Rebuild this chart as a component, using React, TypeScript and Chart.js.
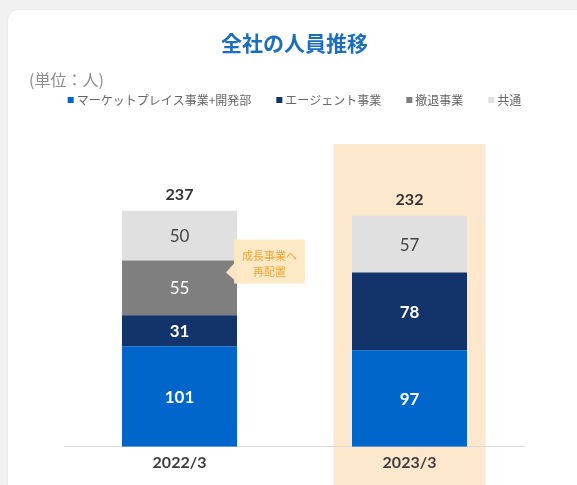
import React, { useEffect, useRef } from 'react';
import { Chart, registerables } from 'chart.js';

Chart.register(...registerables);

const categories = ['2022/3', '2023/3'];
const seriesNames = ['マーケットプレイス事業+開発部', 'エージェント事業', '撤退事業', '共通'];
const marketplace = [101, 97];
const agent = [31, 78];
const withdrawn = [55, 0];
const common = [50, 57];
const seriesColors = ['#0066CC', '#12346B', '#7F7F7F', '#E0E0E0'];
const labelColors = ['#FFFFFF', '#FFFFFF', '#FFFFFF', '#444444'];
const labelWeights = ['bold', 'bold', 'normal', 'normal'];
const titleText = '全社の人員推移';
const unitText = '(単位：人)';
const calloutLines = ['成長事業へ', '再配置'];
const highlightIndex = 1;
const calloutSeries = 2;
const calloutCategory = 0;

const CJK = '"Noto Sans CJK JP", "Noto Sans", sans-serif';
const NUM = 'Lato, "Noto Sans", sans-serif';

const highlightPlugin = {
  id: 'highlight',
  beforeDraw(chart: any) {
    const { ctx, chartArea, scales } = chart;
    const x = scales.x.getPixelForValue(highlightIndex);
    ctx.save();
    ctx.fillStyle = '#FDE7CD';
    ctx.fillRect(x - 76, chartArea.top - 4, 152, chart.height);
    ctx.restore();
  },
};

const headerPlugin = {
  id: 'header',
  afterDraw(chart: any) {
    const { ctx, chartArea } = chart;
    ctx.save();
    ctx.font = `16px ${CJK}`;
    ctx.fillStyle = '#8C8C8C';
    ctx.textBaseline = 'middle';
    ctx.textAlign = 'left';
    ctx.fillText(unitText, 29, 80);

    // legend
    ctx.font = `12px ${CJK}`;
    const box = 6;
    const gap = 3;
    const spacing = 25;
    const widths = seriesNames.map((n) => box + gap + ctx.measureText(n).width);
    const total = widths.reduce((a, b) => a + b, 0) + spacing * (widths.length - 1);
    let x = (chartArea.left + chartArea.right) / 2 - total / 2;
    const y = 100;
    seriesNames.forEach((n, i) => {
      ctx.fillStyle = seriesColors[i];
      ctx.fillRect(x, y - box / 2, box, box);
      ctx.fillStyle = '#666666';
      ctx.fillText(n, x + box + gap, y);
      x += widths[i] + spacing;
    });
    ctx.restore();
  },
};

const labelsPlugin = {
  id: 'valueLabels',
  afterDatasetsDraw(chart: any) {
    const { ctx } = chart;
    ctx.save();
    ctx.textAlign = 'center';
    ctx.textBaseline = 'middle';
    const n = chart.data.datasets.length;
    for (let i = 0; i < n; i++) {
      const meta = chart.getDatasetMeta(i);
      meta.data.forEach((el: any, j: number) => {
        const v = chart.data.datasets[i].data[j];
        if (!v) return;
        ctx.font = `${labelWeights[i]} 17px ${NUM}`;
        ctx.fillStyle = labelColors[i];
        ctx.fillText(String(v), el.x, (el.y + el.base) / 2 + 1);
      });
    }
    // totals
    ctx.font = `bold 16px ${NUM}`;
    ctx.fillStyle = '#333333';
    categories.forEach((_, j) => {
      let sum = 0;
      let top = Infinity;
      let xPos = 0;
      for (let i = 0; i < n; i++) {
        const v = chart.data.datasets[i].data[j] || 0;
        sum += v;
        const el = chart.getDatasetMeta(i).data[j];
        if (v) {
          top = Math.min(top, el.y);
          xPos = el.x;
        }
      }
      ctx.fillText(String(sum), xPos, top - 16);
    });

    // callout
    const el = chart.getDatasetMeta(calloutSeries).data[calloutCategory];
    const right = el.x + el.width / 2;
    const left = right - 3;
    const w = 71;
    const top = el.y - 21;
    const bottom = el.y + 23;
    ctx.fillStyle = 'rgba(253, 232, 196, 0.97)';
    ctx.beginPath();
    ctx.moveTo(left, top);
    ctx.lineTo(left + w, top);
    ctx.lineTo(left + w, bottom);
    ctx.lineTo(left, bottom);
    ctx.lineTo(left, el.y + 19);
    ctx.lineTo(right - 11, el.y + 12);
    ctx.lineTo(left, el.y + 3);
    ctx.closePath();
    ctx.fill();
    ctx.font = `11px ${CJK}`;
    ctx.fillStyle = '#F2A633';
    ctx.fillText(calloutLines[0], left + w / 2, el.y - 5);
    ctx.fillText(calloutLines[1], left + w / 2, el.y + 11);
    ctx.restore();
  },
};

export default function App() {
  const ref = useRef<HTMLCanvasElement | null>(null);
  useEffect(() => {
    if (!ref.current) return;
    const series = [marketplace, agent, withdrawn, common];
    const chart = new Chart(ref.current, {
      type: 'bar',
      data: {
        labels: categories,
        datasets: series.map((d, i) => ({
          label: seriesNames[i],
          data: d,
          backgroundColor: seriesColors[i],
          borderWidth: 0,
          categoryPercentage: 1,
          barPercentage: 0.5,
        })),
      },
      options: {
        animation: false,
        responsive: false,
        devicePixelRatio: 1,
        layout: { padding: { left: 64.5, right: 52.5, top: 0, bottom: 7 } },
        plugins: {
          legend: { display: false },
          tooltip: { enabled: false },
          title: {
            display: true,
            text: titleText,
            color: '#1E6EBE',
            font: { family: CJK, size: 21, weight: 'bold' },
            padding: { top: 30, bottom: 92.8 },
          },
        },
        scales: {
          x: {
            stacked: true,
            grid: { display: false, drawTicks: false },
            border: { display: true, color: '#D9D9D9', width: 1 },
            ticks: {
              color: '#3D3D3D',
              font: { family: NUM, size: 16, weight: 'bold' },
              padding: 6,
            },
          },
          y: {
            stacked: true,
            display: false,
            min: 0,
            max: 300,
          },
        },
      },
      plugins: [highlightPlugin, headerPlugin, labelsPlugin],
    });
    return () => chart.destroy();
  }, []);

  return (
    <div style={{ position: 'fixed', left: 0, top: 0, width: 577, height: 485, background: '#F1F1F1', overflow: 'hidden' }}>
      <div
        style={{
          position: 'absolute',
          left: 8,
          top: 10,
          width: 600,
          height: 520,
          background: '#FFFFFF',
          borderRadius: 10,
          boxShadow: '0 0 2px rgba(0,0,0,0.08)',
        }}
      />
      <canvas ref={ref} width={577} height={485} style={{ position: 'absolute', left: 0, top: 0, width: 577, height: 485 }} />
    </div>
  );
}
